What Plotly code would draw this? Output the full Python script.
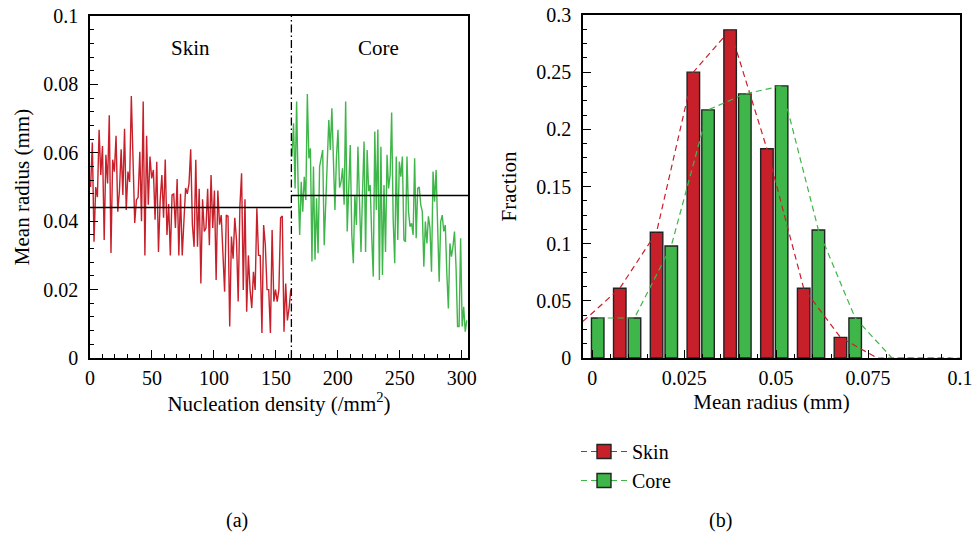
import numpy as np
import plotly.graph_objects as go

# ---------------- data: panel (a) ----------------
skin_radius = [0.050, 0.063, 0.034, 0.050, 0.047, 0.0667, 0.0535, 0.062, 0.0345, 0.0594, 0.051, 0.071, 0.0307,
               0.058, 0.0545, 0.065, 0.0428, 0.049, 0.061, 0.0477, 0.067, 0.0433, 0.0545, 0.0515, 0.0766, 0.055,
               0.0395, 0.0462, 0.047, 0.0603, 0.040, 0.075, 0.030, 0.065, 0.0448, 0.0589, 0.0525, 0.055, 0.0404,
               0.0574, 0.031, 0.046, 0.0535, 0.041, 0.058, 0.036, 0.045, 0.030, 0.0477, 0.048, 0.038, 0.0523,
               0.030, 0.048, 0.030, 0.040, 0.0497, 0.048,
               0.051, 0.061, 0.039, 0.0325, 0.058, 0.0325, 0.0495, 0.0218, 0.0464, 0.037, 0.038, 0.0495, 0.033,
               0.0535, 0.038, 0.049, 0.0228, 0.049, 0.039, 0.0418, 0.031, 0.0194, 0.0418, 0.0415, 0.0092, 0.0355,
               0.029, 0.041, 0.0345, 0.0165, 0.0443, 0.054, 0.0199, 0.0464, 0.0135, 0.030, 0.020, 0.0146, 0.0252,
               0.0199, 0.0438, 0.030, 0.030, 0.0073, 0.0389, 0.033, 0.020, 0.020, 0.0073, 0.0374, 0.0165, 0.020,
               0.0165, 0.020, 0.041, 0.0415, 0.0077, 0.0218, 0.011, 0.0146, 0.020]
core_radius = [0.0589, 0.0686, 0.0496, 0.075, 0.050, 0.036, 0.0515, 0.0428, 0.053, 0.0462, 0.0772, 0.0584, 0.0613,
               0.0282, 0.056, 0.0287, 0.0467, 0.0306, 0.056, 0.0589, 0.0608, 0.033, 0.049, 0.0574, 0.0696, 0.0608,
               0.073, 0.0584, 0.0433, 0.0589, 0.0667, 0.0498, 0.0515, 0.0555, 0.0448, 0.075, 0.037, 0.0496, 0.0623,
               0.036, 0.0277, 0.0477, 0.0389, 0.0618, 0.0448, 0.031, 0.0486, 0.0633, 0.031, 0.0608, 0.0488, 0.0506,
               0.0355, 0.0238, 0.0662,
               0.0433, 0.0668, 0.0228, 0.0618, 0.0243, 0.0506, 0.031, 0.0594, 0.0496, 0.0535, 0.0718, 0.0404,
               0.0277, 0.0589, 0.0345, 0.0574, 0.053, 0.0589, 0.0345, 0.034, 0.0589, 0.0428, 0.0384, 0.0394, 0.036,
               0.0584, 0.035, 0.0496, 0.050, 0.0448, 0.0428, 0.0267, 0.0399, 0.0335, 0.0414, 0.038, 0.0252, 0.0545,
               0.0457, 0.055, 0.0418, 0.0223, 0.0399, 0.0418, 0.037, 0.0389, 0.0248, 0.0145, 0.0335, 0.0296, 0.0326,
               0.037, 0.0267, 0.0092, 0.0092, 0.035, 0.0092, 0.015, 0.0077, 0.011]
skin_density_range = [0.5, 162]
core_density_range = [163, 304]
boundary_density = 162.5
skin_mean = 0.044
core_mean = 0.0475

# ---------------- data: panel (b) ----------------
bin_centers = [0.0, 0.01, 0.02, 0.03, 0.04, 0.05, 0.06, 0.07, 0.08, 0.09, 0.10]
skin_fraction = [0.032, 0.061, 0.110, 0.250, 0.287, 0.183, 0.061, 0.018, 0.0, 0.0, 0.0]
core_fraction = [0.035, 0.035, 0.098, 0.217, 0.231, 0.238, 0.112, 0.035, 0.0, 0.0, 0.0]

a_xticks = [0, 50, 100, 150, 200, 250, 300]
a_yticks = [0, 0.02, 0.04, 0.06, 0.08, 0.1]
b_xticks = [0, 0.025, 0.05, 0.075, 0.1]
b_yticks = [0, 0.05, 0.1, 0.15, 0.2, 0.25, 0.3]

RED = "#C8202A"
GREEN = "#3FB649"
FONT = "Liberation Serif"
W, H = 976, 535
TICK = 20
TITLE = 21

fig = go.Figure()

skin_x = np.linspace(skin_density_range[0], skin_density_range[1], len(skin_radius))
core_x = np.linspace(core_density_range[0], core_density_range[1], len(core_radius))

fig.add_trace(go.Scatter(x=skin_x, y=skin_radius, mode="lines", line=dict(color=RED, width=1.4),
                         showlegend=False, xaxis="x", yaxis="y"))
fig.add_trace(go.Scatter(x=core_x, y=core_radius, mode="lines", line=dict(color=GREEN, width=1.4),
                         showlegend=False, xaxis="x", yaxis="y"))
fig.add_trace(go.Scatter(x=[0, boundary_density], y=[skin_mean, skin_mean], mode="lines",
                         line=dict(color="black", width=1.5), showlegend=False, xaxis="x", yaxis="y"))
fig.add_trace(go.Scatter(x=[boundary_density, 305], y=[core_mean, core_mean], mode="lines",
                         line=dict(color="black", width=1.5), showlegend=False, xaxis="x", yaxis="y"))
fig.add_trace(go.Scatter(x=[boundary_density, boundary_density], y=[0, 0.1], mode="lines",
                         line=dict(color="black", width=1.3, dash="8px,3px,1.5px,3px"),
                         showlegend=False, xaxis="x", yaxis="y"))

# panel (b)
bins = np.array(bin_centers)
red_x = bins - 0.0025
green_x = bins + 0.0015
bw = 0.0034

rb = [(x, y) for x, y in zip(red_x, skin_fraction) if x >= 0 and y > 0]
gb = [(x, y) for x, y in zip(green_x, core_fraction) if x >= 0 and y > 0]

fig.add_trace(go.Bar(x=[p[0] for p in rb], y=[p[1] for p in rb], width=bw,
                     marker=dict(color=RED, line=dict(color="#222222", width=1.4)),
                     showlegend=False, xaxis="x2", yaxis="y2"))
fig.add_trace(go.Bar(x=[p[0] for p in gb], y=[p[1] for p in gb], width=bw,
                     marker=dict(color=GREEN, line=dict(color="#222222", width=1.4)),
                     showlegend=False, xaxis="x2", yaxis="y2"))
fig.add_trace(go.Scatter(x=red_x, y=skin_fraction, mode="lines",
                         line=dict(color=RED, width=1.2, dash="6px,4px"),
                         showlegend=False, xaxis="x2", yaxis="y2"))
fig.add_trace(go.Scatter(x=green_x, y=core_fraction, mode="lines",
                         line=dict(color=GREEN, width=1.2, dash="6px,4px"),
                         showlegend=False, xaxis="x2", yaxis="y2"))

# legend entries
for name, col in [("Skin", RED), ("Core", GREEN)]:
    fig.add_trace(go.Scatter(x=[None], y=[None], mode="lines+markers", name=name,
                             line=dict(color=col, width=1.2, dash="6px,4px"),
                             marker=dict(symbol="square", size=14, color=col,
                                         line=dict(color="#222222", width=1.4)),
                             xaxis="x2", yaxis="y2"))

axis_common = dict(showline=True, linecolor="black", linewidth=1.5, mirror=True,
                   ticks="inside", ticklen=8, tickwidth=1.3, tickcolor="black",
                   showgrid=False, zeroline=False, automargin=False,
                   tickfont=dict(family=FONT, size=TICK, color="black"))

ydom = [1 - 358 / H, 1 - 16 / H]

fig.update_layout(
    width=W, height=H,
    margin=dict(l=0, r=0, t=0, b=0, autoexpand=False),
    paper_bgcolor="white", plot_bgcolor="white",
    barmode="overlay",
    font=dict(family=FONT, size=18, color="black"),
    xaxis=dict(domain=[90 / W, 468 / W], range=[0, 305], anchor="y",
               tickvals=a_xticks, ticktext=[str(v) for v in a_xticks],
               minor=dict(dtick=10, tick0=0, ticks="inside", ticklen=4, tickcolor="black"),
               ticklabelstandoff=1,
               title=dict(text="Nucleation density (/mm<sup>2</sup>)", font=dict(family=FONT, size=TITLE),
                          standoff=7),
               **axis_common),
    yaxis=dict(domain=ydom, range=[0, 0.1], anchor="x",
               tickvals=a_yticks, ticktext=["0", "0.02", "0.04", "0.06", "0.08", "0.1"],
               minor=dict(dtick=0.004, tick0=0, ticks="inside", ticklen=4, tickcolor="black"),
               ticklabelstandoff=6,
               title=dict(text="Mean radius (mm)", font=dict(family=FONT, size=TITLE), standoff=8),
               **axis_common),
    xaxis2=dict(domain=[583 / W, 960 / W], range=[-0.0025, 0.1], anchor="y2",
                tickvals=b_xticks, ticktext=["0", "0.025", "0.05", "0.075", "0.1"],
                minor=dict(dtick=0.005, tick0=0, ticks="inside", ticklen=4, tickcolor="black"),
                ticklabelstandoff=1,
                title=dict(text="Mean radius (mm)", font=dict(family=FONT, size=TITLE), standoff=7),
                **axis_common),
    yaxis2=dict(domain=[1 - 358 / H, 1 - 15 / H], range=[0, 0.3], anchor="x2",
                tickvals=b_yticks, ticktext=["0", "0.05", "0.1", "0.15", "0.2", "0.25", "0.3"],
                minor=dict(dtick=0.0125, tick0=0, ticks="inside", ticklen=4, tickcolor="black"),
                ticklabelstandoff=6,
                title=dict(text="Fraction", font=dict(family=FONT, size=TITLE), standoff=14),
                **axis_common),
    legend=dict(x=576 / W, y=1 - 432 / H, xanchor="left", yanchor="top",
                font=dict(family=FONT, size=20), bgcolor="rgba(0,0,0,0)",
                itemwidth=46, tracegroupgap=0),
    annotations=[
        dict(x=80.7, y=0.0906, xref="x", yref="y", text="Skin", showarrow=False,
             font=dict(family=FONT, size=21)),
        dict(x=233, y=0.0906, xref="x", yref="y", text="Core", showarrow=False,
             font=dict(family=FONT, size=21)),
        dict(x=237 / W, y=1 - 520 / H, xref="paper", yref="paper", text="(a)", showarrow=False,
             xanchor="center", yanchor="middle", font=dict(family=FONT, size=20)),
        dict(x=720 / W, y=1 - 520 / H, xref="paper", yref="paper", text="(b)", showarrow=False,
             xanchor="center", yanchor="middle", font=dict(family=FONT, size=20)),
    ],
)

fig.write_html("out.html")
